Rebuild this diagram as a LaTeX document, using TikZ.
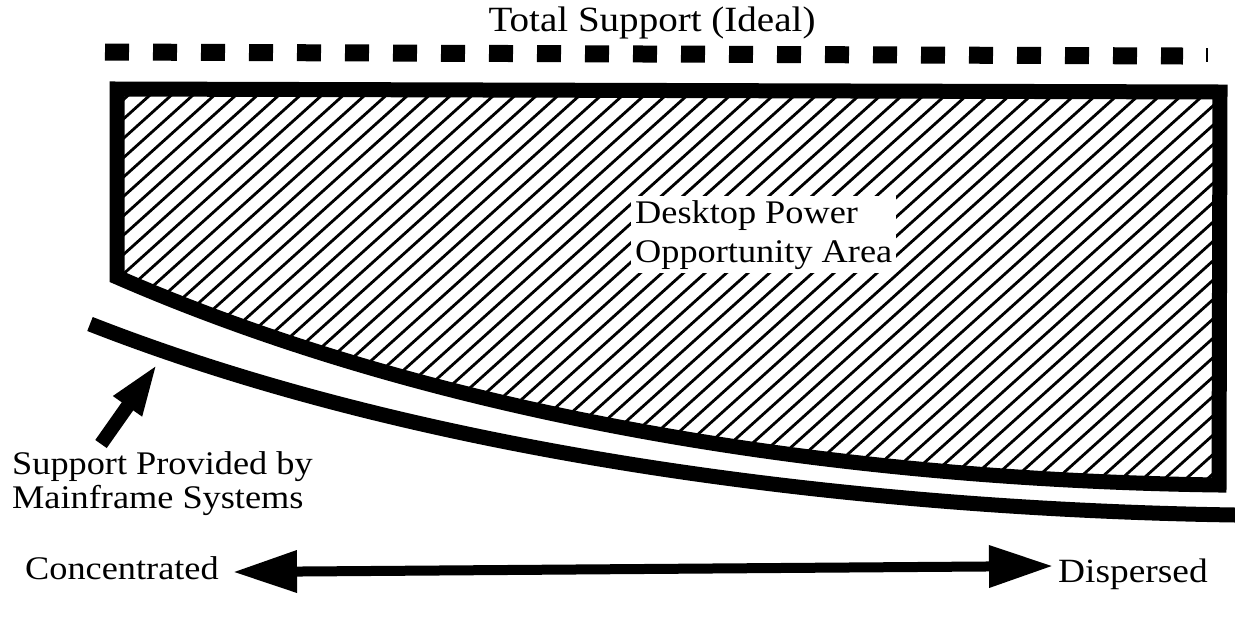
\documentclass[tikz,border=0pt]{standalone}
\usepackage{fontspec}
\setmainfont{Liberation Serif}[FakeStretch=1.1]
\usetikzlibrary{arrows.meta}
\begin{document}
\begin{tikzpicture}[x=1pt,y=-1pt,line join=miter,
  lbl/.style={font=\fontsize{33}{34}\selectfont, inner sep=0pt},
  frame/.style={line width=15pt},
  hatch/.style={line width=2.8pt},
  pointer/.style={line width=14pt, -{Triangle[length=53pt,width=31pt]}},
  axisarrow/.style={line width=10pt, {Triangle[length=64pt,width=40pt]}-{Triangle[length=64pt,width=40pt]}},
  ideal/.style={line width=17pt, dash pattern=on 24pt off 24pt},
  mainframe/.style={line width=15pt}]
\useasboundingbox (0,0) rectangle (1235,622);
\fill[white] (0,0) rectangle (1235,622);

% title and ideal line
\node[lbl, anchor=base, font=\fontsize{35.5}{36}\selectfont] (title) at (652,31) {Total Support (Ideal)};
\coordinate (dashA) at (105,52);
\coordinate (dashB) at (1183,56);
\draw[ideal] (dashA) -- (dashB);
\coordinate (tickA) at (1207,48);
\coordinate (tickB) at (1207,62);
\draw[line width=2pt] (tickA) -- (tickB);

% hatched opportunity area
\begin{scope}
\clip (117,277) -- (117,89) -- (1220,92) -- (1219,485) .. controls (850,480) and (450,422) .. (117,277) -- cycle;
\foreach \k in {0,...,82} \draw[hatch] ({-450+21.5*\k},500) -- ++(555,-500);
\end{scope}
\draw[frame] (117,277) -- (117,89) -- (1220,92) -- (1219,485) .. controls (850,480) and (450,422) .. cycle;

\node[lbl, fill=white, align=left, anchor=base west, inner sep=4pt, font=\fontsize{33}{39}\selectfont] (opp) at (631,262) {Desktop Power\\Opportunity Area};

% mainframe support curve
\draw[mainframe] (90,324) .. controls (450,465) and (900,510) .. (1235,515);

\node[lbl, align=left, anchor=base west] (sup) at (12,508) {Support Provided by\\Mainframe Systems};
\coordinate (ptrStart) at (101,444);
\coordinate (ptrTip) at (158,363);
\draw[pointer] (ptrStart) -- (ptrTip);

% concentrated - dispersed axis
\node[lbl, anchor=base west] (conc) at (25,579) {Concentrated};
\node[lbl, anchor=base west, font=\fontsize{34}{34}\selectfont] (disp) at (1058,582) {Dispersed};
\coordinate (leftTip) at (233,572);
\coordinate (rightTip) at (1053,566);
\draw[axisarrow] (leftTip) -- (rightTip);
\end{tikzpicture}
\end{document}
